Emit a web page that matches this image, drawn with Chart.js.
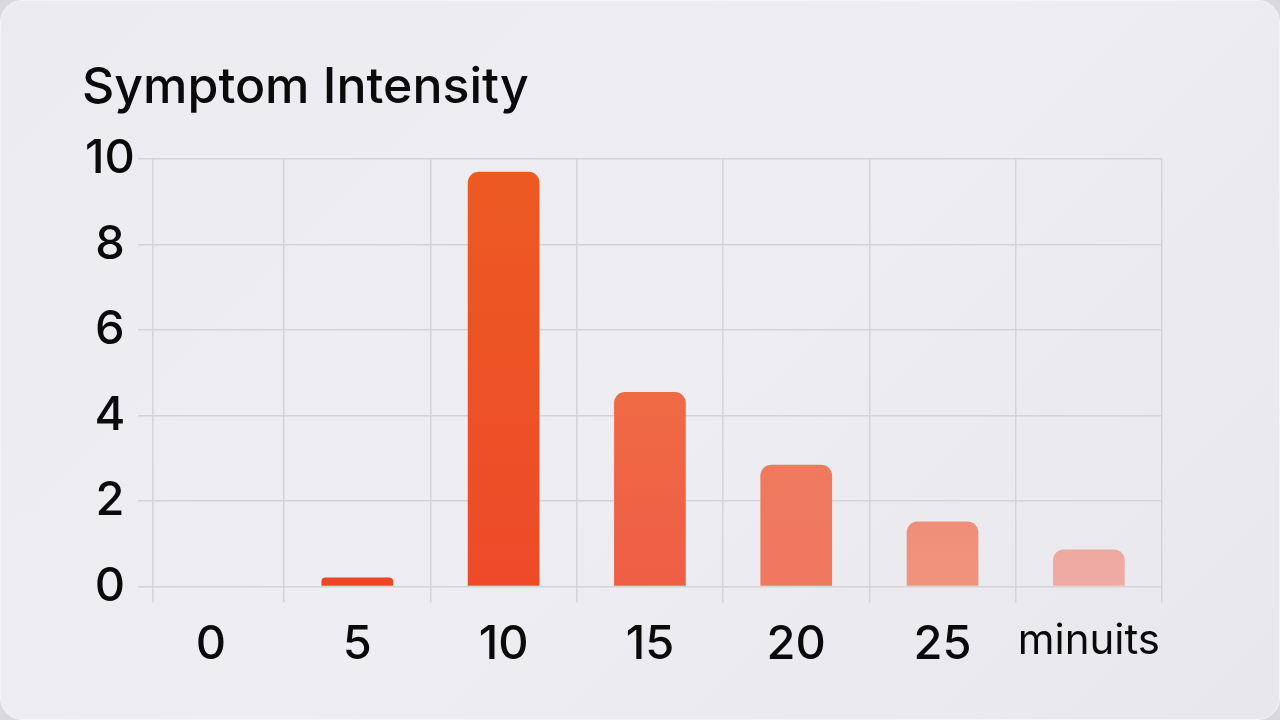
<!DOCTYPE html>
<html>
<head>
<meta charset="utf-8">
<script src="https://cdn.jsdelivr.net/npm/chart.js@4.4.0/dist/chart.umd.min.js"></script>
<style>
    html, body { margin: 0; padding: 0; width: 1280px; height: 720px; overflow: hidden; background: #d9d8dd; }
    .card {
        position: absolute; left: 0; top: 0; width: 1278px; height: 718px;
        border: 1px solid #f4f4f6; border-radius: 22px;
        background: linear-gradient(135deg, #ecebef 0%, #eeedf1 50%, #e8e7ec 100%);
    }
    canvas { position: absolute; left: 0; top: 0; }
</style>
</head>
<body>
<div class="card"></div>
<canvas id="chart" width="1280" height="720"></canvas>
<script>
const minutes = ["0", "5", "10", "15", "20", "25", "minuits"];
const intensity = [0, 0.21, 9.7, 4.55, 2.85, 1.52, 0.87];
const yTicks = [0, 2, 4, 6, 8, 10];

const topColors = ['#ee4428', '#ee4428', '#ec5a22', '#ef6a44', '#ef7a5e', '#f08e78', '#eea8a0'];
const bottomColors = ['#ee4428', '#ee4428', '#ee4a2a', '#ef5e46', '#ef7860', '#f0947e', '#efaba4'];

const ctx = document.getElementById('chart').getContext('2d');

// y axis line sits a bit right of the first category edge, like the reference
const axisLine = {
    id: 'axisLine',
    beforeDatasetsDraw(chart) {
        const a = chart.chartArea;
        const c = chart.ctx;
        const x = a.left + 15;
        c.save();
        c.strokeStyle = '#d4d3d8';
        c.lineWidth = 1.5;
        c.beginPath();
        c.moveTo(x, a.top);
        c.lineTo(x, a.bottom + 16);
        c.stroke();
        c.restore();
    }
};

function barFill(context) {
    const chart = context.chart;
    const a = chart.chartArea;
    if (!a) return topColors[context.dataIndex];
    const i = context.dataIndex;
    const y = chart.scales.y;
    const g = chart.ctx.createLinearGradient(0, y.getPixelForValue(intensity[i]), 0, a.bottom);
    g.addColorStop(0, topColors[i]);
    g.addColorStop(1, bottomColors[i]);
    return g;
}

new Chart(ctx, {
    type: 'bar',
    data: {
        labels: minutes,
        datasets: [{
            data: intensity,
            backgroundColor: barFill,
            borderRadius: { topLeft: 11, topRight: 11, bottomLeft: 0, bottomRight: 0 },
            borderSkipped: 'start',
            barPercentage: 0.49,
            categoryPercentage: 1
        }]
    },
    options: {
        responsive: false,
        animation: false,
        layout: { padding: { left: 82, right: 118, top: 58, bottom: 33 } },
        plugins: {
            legend: { display: false },
            tooltip: { enabled: false },
            title: {
                display: true,
                text: 'Symptom Intensity',
                align: 'start',
                color: '#0a0a0a',
                font: { family: 'Inter', size: 50, weight: '500' },
                padding: { top: 0, bottom: 41 }
            }
        },
        scales: {
            x: {
                grid: {
                    offset: true,
                    color: (c) => c.index === 0 ? 'rgba(0,0,0,0)' : '#d4d3d8',
                    lineWidth: 1.5,
                    tickLength: 16
                },
                border: { display: false },
                ticks: {
                    color: '#0a0a0a',
                    padding: 14,
                    autoSkip: false,
                    maxRotation: 0,
                    minRotation: 0,
                    font: (c) => c.index === 6
                        ? { family: 'Inter', size: 42, weight: '400' }
                        : { family: 'Inter', size: 47, weight: '500' }
                }
            },
            y: {
                min: 0,
                max: 10,
                afterBuildTicks: (scale) => { scale.ticks = yTicks.map(v => ({ value: v })); },
                grid: { color: '#d4d3d8', lineWidth: 1.5, drawTicks: false },
                border: { display: false },
                ticks: {
                    color: '#0a0a0a',
                    padding: 3,
                    crossAlign: 'center',
                    font: { family: 'Inter', size: 47, weight: '500' }
                }
            }
        }
    },
    plugins: [axisLine]
});
</script>
</body>
</html>
